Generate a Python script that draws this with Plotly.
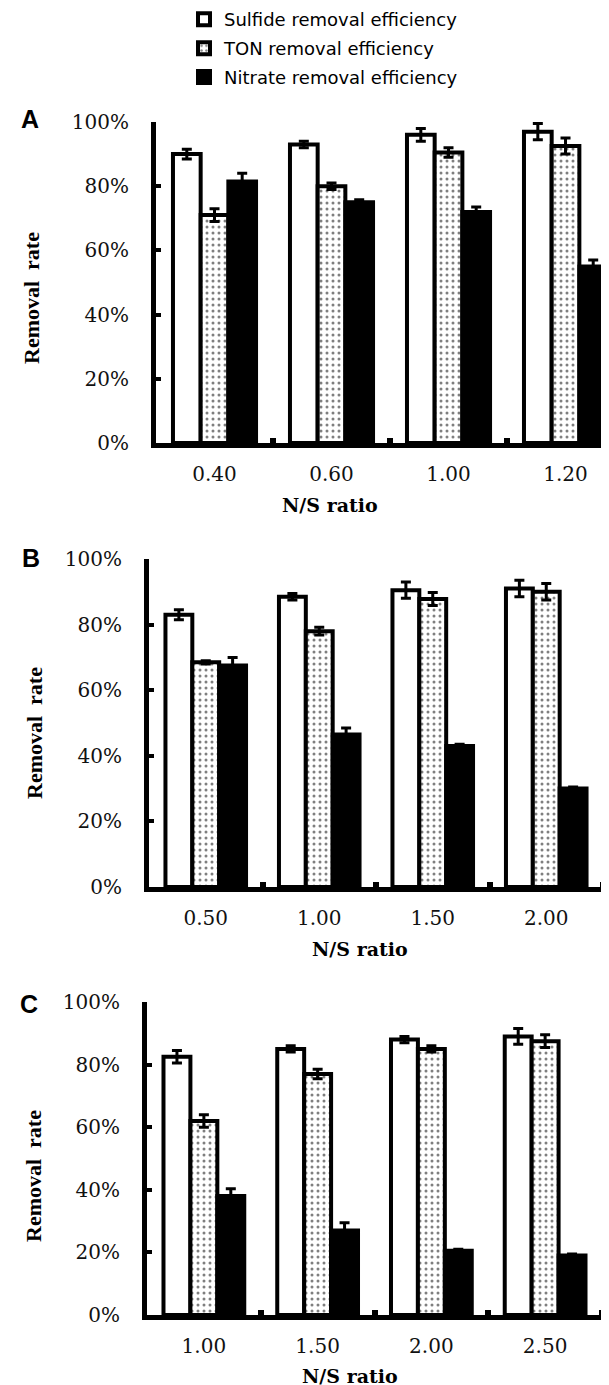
import plotly.graph_objects as go

W, H = 609, 1385

# ---------------- data ----------------
series_names = ["Sulfide removal efficiency", "TON removal efficiency", "Nitrate removal efficiency"]

cats_A = ["0.40", "0.60", "1.00", "1.20"]
sulfide_A = [90, 93, 96, 97]
sulfide_A_err = [1.5, 1.0, 2.0, 2.5]
ton_A = [71, 80, 90.5, 92.5]
ton_A_err = [2.0, 1.0, 1.5, 2.5]
nitrate_A = [81.5, 75, 72, 55]
nitrate_A_err = [2.5, 0.8, 1.5, 2.0]

cats_B = ["0.50", "1.00", "1.50", "2.00"]
sulfide_B = [83, 88.5, 90.5, 91]
sulfide_B_err = [1.5, 1.0, 2.5, 2.5]
ton_B = [68.5, 78, 87.8, 90]
ton_B_err = [0.5, 1.2, 2.0, 2.5]
nitrate_B = [67.5, 46.5, 43, 30]
nitrate_B_err = [2.5, 2.0, 0.5, 0.5]

cats_C = ["1.00", "1.50", "2.00", "2.50"]
sulfide_C = [82.5, 85, 88, 89]
sulfide_C_err = [2.0, 1.0, 1.0, 2.5]
ton_C = [62, 77, 85, 87.5]
ton_C_err = [2.0, 1.5, 1.0, 2.0]
nitrate_C = [38, 27, 20.5, 19]
nitrate_C_err = [2.3, 2.5, 0.5, 0.5]

y_ticks = [0, 20, 40, 60, 80, 100]
panel_letters = ["A", "B", "C"]
x_title = "N/S ratio"
y_title = "Removal\u00a0 rate"

panels = [
    (cats_A, [(sulfide_A, sulfide_A_err), (ton_A, ton_A_err), (nitrate_A, nitrate_A_err)]),
    (cats_B, [(sulfide_B, sulfide_B_err), (ton_B, ton_B_err), (nitrate_B, nitrate_B_err)]),
    (cats_C, [(sulfide_C, sulfide_C_err), (ton_C, ton_C_err), (nitrate_C, nitrate_C_err)]),
]

# ---------------- layout geometry (pixels) ----------------
# (x_left, x_right, y_top(100%), y_bottom(0%), x range max)
geom = [
    (148, 609, 114, 435, 3.44),
    (141, 595, 551, 879, 3.5),
    (139, 594, 994, 1307, 3.5),
]
letter_pos = [(22, 111), (23, 550), (21, 996)]
ytitle_pos = [(24, 290), (26, 725), (25, 1168)]
xtitle_pos = [(322, 497), (352, 941), (342, 1368)]


def px(x):
    return x / W


def py(y):
    return 1 - y / H


styles = [
    dict(color="white", line=dict(color="black", width=4)),
    dict(color="white", line=dict(color="black", width=4),
         pattern=dict(shape=".", fgcolor="black", bgcolor="white", size=6, solidity=0.2)),
    dict(color="black", line=dict(color="black", width=4)),
]

fig = go.Figure()
layout_axes = {}
annotations = []

for i, (cats, series) in enumerate(panels):
    xa = "x" if i == 0 else f"x{i+1}"
    ya = "y" if i == 0 else f"y{i+1}"
    xpos = list(range(len(cats)))
    for j, (vals, errs) in enumerate(series):
        fig.add_trace(go.Bar(
            x=xpos, y=vals,
            name=series_names[j],
            legendgroup=f"g{j}",
            showlegend=(i == 0),
            marker=styles[j],
            error_y=dict(type="data", array=errs, visible=True,
                         color="black", thickness=3, width=5),
            xaxis=xa, yaxis=ya,
        ))
    xl, xr, yt, yb, xmax = geom[i]
    xkey = "xaxis" if i == 0 else f"xaxis{i+1}"
    ykey = "yaxis" if i == 0 else f"yaxis{i+1}"
    layout_axes[xkey] = dict(
        domain=[px(xl), px(xr)], anchor=ya,
        range=[-0.5, xmax],
        tickmode="array", tickvals=xpos, ticktext=cats,
        ticks="", showline=True, linecolor="black", linewidth=5,
        showgrid=False, zeroline=False,
        tickfont=dict(family="DejaVu Serif", size=20, color="#111"),
        ticklabelstandoff=9,
        minor=dict(tickmode="array", tickvals=[k + 0.5 for k in xpos],
                   ticks="inside", ticklen=5, tickwidth=6, tickcolor="black",
                   showgrid=False),
    )
    layout_axes[ykey] = dict(
        domain=[py(yb), py(yt)], anchor=xa,
        range=[0, 100],
        tickmode="array", tickvals=y_ticks, ticktext=[f"{v}%" for v in y_ticks],
        ticks="inside", ticklen=5, tickwidth=4, tickcolor="black",
        showline=True, linecolor="black", linewidth=5,
        showgrid=False, zeroline=False,
        tickfont=dict(family="DejaVu Serif", size=20, color="#111"),
        ticklabelstandoff=18,
    )
    lx, ly = letter_pos[i]
    annotations.append(dict(text=f"<b>{panel_letters[i]}</b>", x=px(lx), y=py(ly),
                            xref="paper", yref="paper", showarrow=False,
                            xanchor="center", yanchor="middle",
                            font=dict(family="Liberation Sans", size=25, color="black")))
    tx, ty = ytitle_pos[i]
    annotations.append(dict(text=f"<b>{y_title}</b>", x=px(tx), y=py(ty),
                            xref="paper", yref="paper", showarrow=False, textangle=-90,
                            xanchor="center", yanchor="middle",
                            font=dict(family="Liberation Serif", size=22, color="black")))
    nx, ny = xtitle_pos[i]
    annotations.append(dict(text=f"<b>{x_title}</b>", x=px(nx), y=py(ny),
                            xref="paper", yref="paper", showarrow=False,
                            xanchor="center", yanchor="middle",
                            font=dict(family="DejaVu Serif", size=19, color="black")))

fig.update_layout(
    width=W, height=H,
    margin=dict(l=0, r=0, t=0, b=0, autoexpand=False),
    paper_bgcolor="white", plot_bgcolor="white",
    barmode="group", bargap=0.29, bargroupgap=0,
    showlegend=True,
    legend=dict(x=px(176), y=1.005, xanchor="left", yanchor="top",
                font=dict(family="DejaVu Sans", size=18, color="black"),
                tracegroupgap=2.5, itemwidth=30, bgcolor="rgba(0,0,0,0)"),
    annotations=annotations,
    **layout_axes,
)

fig.write_html("out.html")
